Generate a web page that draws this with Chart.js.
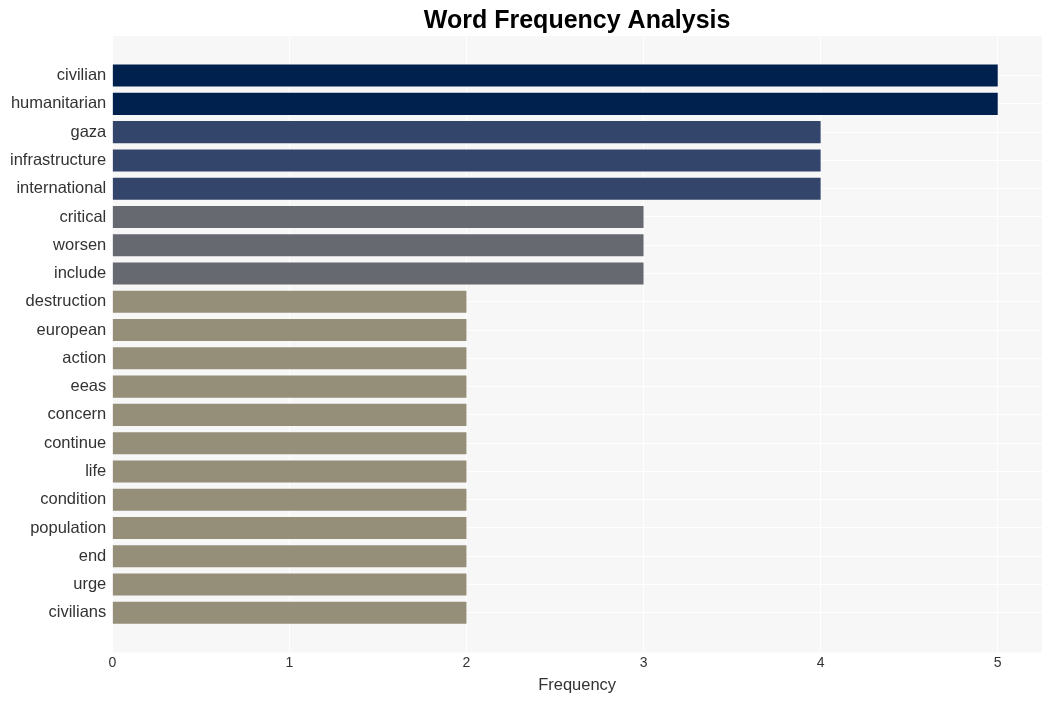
<!DOCTYPE html>
<html>
<head>
<meta charset="utf-8">
<script src="https://cdn.jsdelivr.net/npm/chart.js@4/dist/chart.umd.min.js"></script>
<style>
  html, body { margin: 0; padding: 0; background: #fff; }
  #wrap { width: 1052px; height: 701px; }
</style>
</head>
<body>
<div id="wrap"><canvas id="c" width="1052" height="701"></canvas></div>
<script>
// ── Data ────────────────────────────────────────────────────────────────────
const words = [
  'civilian', 'humanitarian', 'gaza', 'infrastructure', 'international',
  'critical', 'worsen', 'include', 'destruction', 'european',
  'action', 'eeas', 'concern', 'continue', 'life',
  'condition', 'population', 'end', 'urge', 'civilians'
];
const counts = [5, 5, 4, 4, 4, 3, 3, 3, 2, 2, 2, 2, 2, 2, 2, 2, 2, 2, 2, 2];
const xTicks = [0, 1, 2, 3, 4, 5];

// cividis-like shades keyed by frequency
const shade = { 5: '#00214e', 4: '#34456b', 3: '#676970', 2: '#958e78' };

const fontFamily = '"Liberation Sans", Arial, Helvetica, sans-serif';
const textColor  = '#333333';

// paint the grey panel behind the plot
Chart.register({
  id: 'panelBg',
  beforeDraw(chart) {
    const { ctx, chartArea: a } = chart;
    ctx.save();
    ctx.fillStyle = '#f7f7f7';
    ctx.fillRect(a.left, a.top, a.right - a.left, a.bottom - a.top);
    ctx.restore();
  },
});

new Chart(document.getElementById('c'), {
  type: 'bar',
  data: {
    datasets: [{
      data: words.map((w, i) => ({ x: counts[i], y: i })),
      backgroundColor: counts.map(v => shade[v]),
      barPercentage: 0.78,
      categoryPercentage: 1.0,
      inflateAmount: 0,
    }],
  },
  options: {
    indexAxis: 'y',
    responsive: false,
    animation: false,
    layout: { padding: { left: 4, right: 10, top: 0, bottom: 6 } },
    plugins: {
      legend: { display: false },
      tooltip: { enabled: false },
      title: {
        display: true,
        fullSize: false,
        text: 'Word Frequency Analysis',
        color: '#000',
        font: { family: fontFamily, size: 25, weight: 'bold' },
        padding: { top: 6, bottom: 0 },
      },
    },
    scales: {
      x: {
        type: 'linear',
        min: 0,
        max: 5.25,
        afterBuildTicks: s => { s.ticks = xTicks.map(v => ({ value: v })); },
        grid: { color: '#ffffff', lineWidth: 1, drawTicks: false },
        border: { display: false },
        ticks: { color: textColor, font: { family: fontFamily, size: 14 }, padding: 2 },
        title: {
          display: true,
          text: 'Frequency',
          color: textColor,
          font: { family: fontFamily, size: 16.5 },
          padding: { top: 2, bottom: 0 },
        },
      },
      y: {
        type: 'linear',
        reverse: true,
        offset: false,
        min: -1.4,
        max: 20.4,
        afterBuildTicks: s => { s.ticks = words.map((w, i) => ({ value: i })); },
        grid: { color: '#ffffff', lineWidth: 1, drawTicks: false, offset: false },
        border: { display: false },
        ticks: {
          color: textColor,
          font: { family: fontFamily, size: 16.5 },
          padding: 6,
          callback: v => words[v] ?? '',
        },
      },
    },
  },
});
</script>
</body>
</html>
